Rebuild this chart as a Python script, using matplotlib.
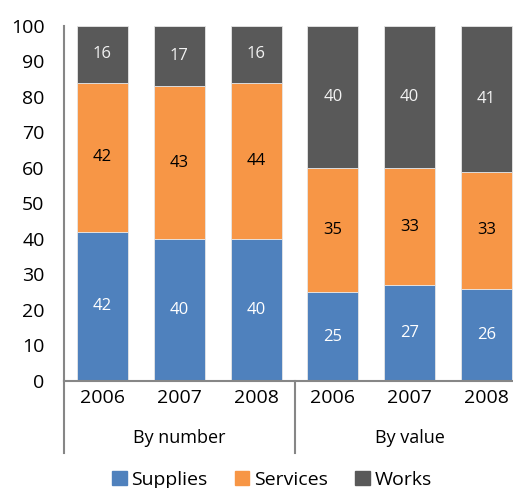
import matplotlib
matplotlib.use("Agg")
import matplotlib.pyplot as plt
from matplotlib.patches import Patch
from matplotlib.lines import Line2D

plt.rcParams['font.family'] = ['Open Sans', 'DejaVu Sans']

years = ["2006", "2007", "2008", "2006", "2007", "2008"]
groups = ["By number", "By value"]
supplies = [42, 40, 40, 25, 27, 26]
services = [42, 43, 44, 35, 33, 33]
works = [16, 17, 16, 40, 40, 41]
yticks = [0, 10, 20, 30, 40, 50, 60, 70, 80, 90, 100]

c_sup, c_ser, c_wor = "#4F81BD", "#F79646", "#595959"

W, H = 513, 488
fig = plt.figure(figsize=(W / 100, H / 100), dpi=100)
left, right, top, bottom = 64, 525, 26, 381
ax = fig.add_axes([left / W, 1 - bottom / H, (right - left) / W, (bottom - top) / H])

x = list(range(len(years)))
bw = 0.665
ec = "#e6e6e6"
b1 = ax.bar(x, supplies, bw, color=c_sup, edgecolor=ec, linewidth=0.6)
bot2 = supplies
b2 = ax.bar(x, services, bw, bottom=bot2, color=c_ser, edgecolor=ec, linewidth=0.6)
bot3 = [a + b for a, b in zip(supplies, services)]
b3 = ax.bar(x, works, bw, bottom=bot3, color=c_wor, edgecolor=ec, linewidth=0.6)

ax.bar_label(b1, labels=[str(v) for v in supplies], label_type="center", color="white", fontsize=12)
ax.bar_label(b2, labels=[str(v) for v in services], label_type="center", color="black", fontsize=12)
ax.bar_label(b3, labels=[str(v) for v in works], label_type="center", color="#f2f2f2", fontsize=12)

ax.set_xlim(-0.5, len(years) - 0.5)
ax.set_ylim(0, 100)
ax.set_yticks(yticks)
ax.set_yticklabels([str(t) for t in yticks], fontsize=14)
ax.tick_params(axis="y", length=0, pad=14)
ax.set_xticks(x)
ax.set_xticklabels(years, fontsize=14)
ax.tick_params(axis="x", length=0, pad=6)
for s in ["top", "right"]:
    ax.spines[s].set_visible(False)
ax.spines["left"].set_color("#868686")
ax.spines["bottom"].set_color("#868686")
ax.spines["left"].set_linewidth(1.5)
ax.spines["bottom"].set_linewidth(1.5)

# group separators and labels
trans = ax.get_xaxis_transform()
for xs in [-0.5, 2.5, 5.5]:
    ax.add_line(Line2D([xs, xs], [0, -72 / (bottom - top)], transform=trans,
                       color="#868686", lw=1.5, clip_on=False))
for i, g in enumerate(groups):
    ax.text(1 + 3 * i, -57 / (bottom - top), g, transform=trans, ha="center", va="center", fontsize=13)

handles = [Patch(color=c_sup), Patch(color=c_ser), Patch(color=c_wor)]
fig.legend(handles, ["Supplies", "Services", "Works"], loc="center",
           bbox_to_anchor=(272 / W, 1 - 480 / H), ncol=3, frameon=False, fontsize=14,
           handlelength=0.75, handleheight=0.75, handletextpad=0.25, columnspacing=1.4,
           borderpad=0)

fig.savefig("out.png", dpi=100)
